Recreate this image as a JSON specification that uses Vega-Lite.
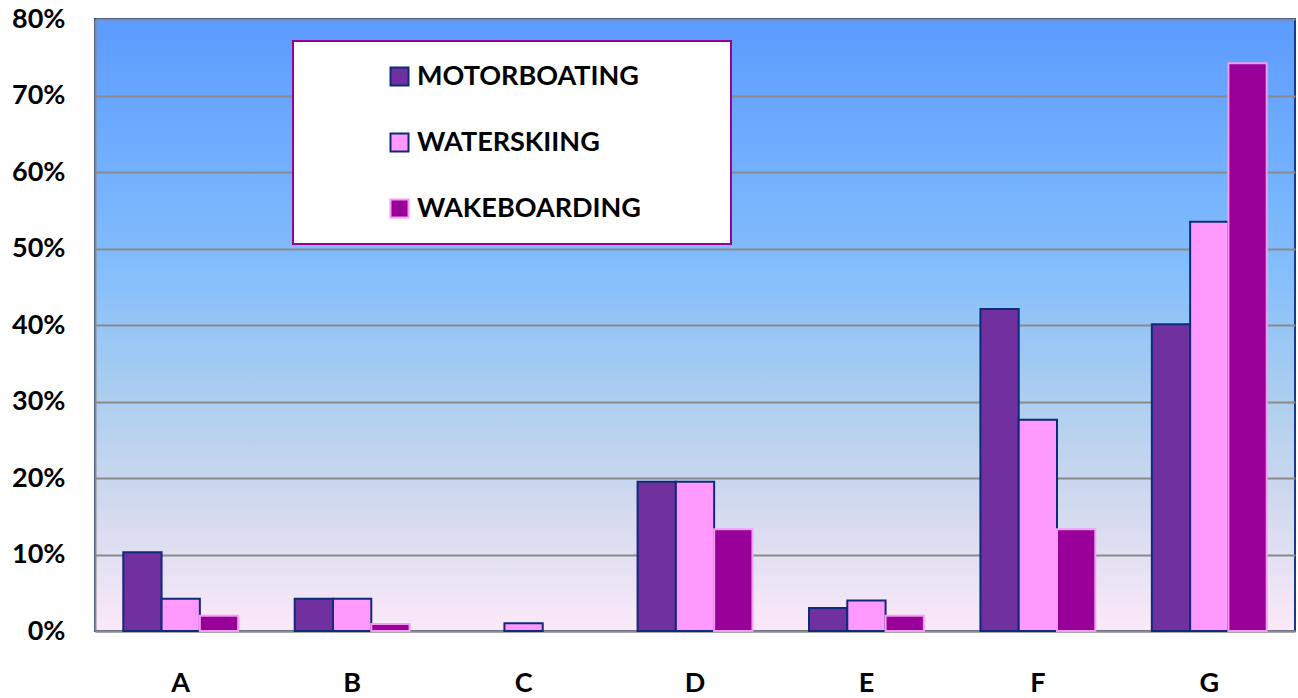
{
  "$schema": "https://vega.github.io/schema/vega-lite/v6.json",
  "width": 1200,
  "height": 612,
  "autosize": {"type": "none"},
  "padding": {"left": 95, "top": 19, "right": 3, "bottom": 67},
  "background": "white",
  "data": {
    "values": [
      {"cat": "A", "series": "MOTORBOATING", "value": 0.103},
      {"cat": "A", "series": "WATERSKIING", "value": 0.042},
      {"cat": "A", "series": "WAKEBOARDING", "value": 0.020},
      {"cat": "B", "series": "MOTORBOATING", "value": 0.042},
      {"cat": "B", "series": "WATERSKIING", "value": 0.042},
      {"cat": "B", "series": "WAKEBOARDING", "value": 0.009},
      {"cat": "C", "series": "WATERSKIING", "value": 0.010},
      {"cat": "D", "series": "MOTORBOATING", "value": 0.195},
      {"cat": "D", "series": "WATERSKIING", "value": 0.195},
      {"cat": "D", "series": "WAKEBOARDING", "value": 0.133},
      {"cat": "E", "series": "MOTORBOATING", "value": 0.030},
      {"cat": "E", "series": "WATERSKIING", "value": 0.040},
      {"cat": "E", "series": "WAKEBOARDING", "value": 0.020},
      {"cat": "F", "series": "MOTORBOATING", "value": 0.421},
      {"cat": "F", "series": "WATERSKIING", "value": 0.276},
      {"cat": "F", "series": "WAKEBOARDING", "value": 0.133},
      {"cat": "G", "series": "MOTORBOATING", "value": 0.401},
      {"cat": "G", "series": "WATERSKIING", "value": 0.535},
      {"cat": "G", "series": "WAKEBOARDING", "value": 0.742}
    ]
  },
  "mark": {"type": "bar", "strokeWidth": 2},
  "encoding": {
    "x": {
      "field": "cat", "type": "nominal",
      "scale": {"domain": ["A","B","C","D","E","F","G"], "paddingInner": 0.33, "paddingOuter": 0.165},
      "axis": {"title": null, "labelAngle": 0}
    },
    "xOffset": {
      "field": "series", "type": "nominal",
      "scale": {"domain": ["MOTORBOATING","WATERSKIING","WAKEBOARDING"], "paddingInner": 0, "paddingOuter": 0}
    },
    "y": {
      "field": "value", "type": "quantitative",
      "scale": {"domain": [0, 0.8], "nice": false},
      "axis": {"title": null, "format": ".0%", "values": [0,0.1,0.2,0.3,0.4,0.5,0.6,0.7,0.8]}
    },
    "color": {
      "field": "series", "type": "nominal",
      "scale": {"domain": ["MOTORBOATING","WATERSKIING","WAKEBOARDING"], "range": ["#7030A0","#FF99FF","#990099"]},
      "legend": {"title": "\u00a0", "titleOrient": "right", "titlePadding": 68}
    },
    "stroke": {
      "field": "series", "type": "nominal",
      "scale": {"domain": ["MOTORBOATING","WATERSKIING","WAKEBOARDING"], "range": ["#0E2B7A","#0E2B7A","#F59CF2"]},
      "legend": {"title": "\u00a0", "titleOrient": "right", "titlePadding": 68}
    }
  },
  "config": {
    "view": {
      "stroke": "#163A8A",
      "strokeWidth": 2,
      "fill": {
        "gradient": "linear", "x1": 0, "y1": 0, "x2": 0, "y2": 1,
        "stops": [
          {"offset": 0, "color": "#5B9BFF"},
          {"offset": 0.4, "color": "#82BDFC"},
          {"offset": 0.6, "color": "#A8CDF0"},
          {"offset": 0.78, "color": "#CFD8EE"},
          {"offset": 0.9, "color": "#E6E2F4"},
          {"offset": 1, "color": "#FCE9F8"}
        ]
      }
    },
    "axis": {
      "labelFont": "Lato",
      "labelFontSize": 27,
      "labelFontWeight": "bold",
      "labelColor": "black",
      "ticks": false,
      "domainColor": "#8A8A8A",
      "domainWidth": 2,
      "gridColor": "#8A8A8A",
      "gridWidth": 2,
      "gridOpacity": 1
    },
    "axisX": {"labelPadding": 39, "grid": false},
    "axisY": {"labelPadding": 30, "grid": true},
    "legend": {
      "orient": "none",
      "legendX": 198,
      "legendY": 22,
      "fillColor": "white",
      "strokeColor": "#990099",
      "strokeWidth": 2,
      "padding": 22,
      "symbolOffset": 71,
      "symbolType": "square",
      "symbolSize": 324,
      "symbolStrokeWidth": 2,
      "labelFont": "Lato",
      "labelFontSize": 27,
      "labelFontWeight": "bold",
      "labelColor": "black",
      "labelLimit": 500,
      "labelOffset": 4,
      "rowPadding": 38,
      "titleFontSize": 10
    }
  }
}
